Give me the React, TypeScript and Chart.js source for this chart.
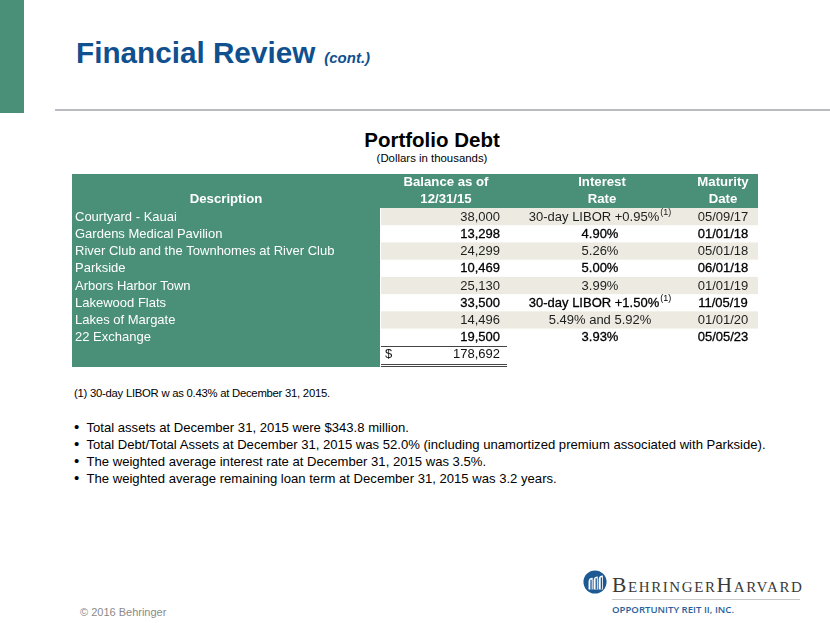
import React, { useEffect, useRef } from "react";
import { Chart, registerables } from "chart.js";

Chart.register(...registerables);

// ---- data ----
const descriptions = [
  "Courtyard - Kauai",
  "Gardens Medical Pavilion",
  "River Club and the Townhomes at River Club",
  "Parkside",
  "Arbors Harbor Town",
  "Lakewood Flats",
  "Lakes of Margate",
  "22 Exchange",
];
const balances = [38000, 13298, 24299, 10469, 25130, 33500, 14496, 19500];
const rates = [
  "30-day LIBOR +0.95%",
  "4.90%",
  "5.26%",
  "5.00%",
  "3.99%",
  "30-day LIBOR +1.50%",
  "5.49% and 5.92%",
  "3.93%",
];
const rateNotes = ["(1)", "", "", "", "", "(1)", "", ""];
const maturities = ["05/09/17", "01/01/18", "05/01/18", "06/01/18", "01/01/19", "11/05/19", "01/01/20", "05/05/23"];
const headerTop = ["", "Balance as of", "Interest", "Maturity"];
const headerBottom = ["Description", "12/31/15", "Rate", "Date"];
const totalBalance = balances.reduce((a, b) => a + b, 0);

const footnote = "(1) 30-day LIBOR w as 0.43% at December 31, 2015.";
const bullets = [
  "Total assets at December 31, 2015 were $343.8 million.",
  "Total Debt/Total Assets at December 31, 2015 was 52.0% (including unamortized premium associated with Parkside).",
  "The weighted average interest rate at December 31, 2015 was 3.5%.",
  "The weighted average remaining loan term at December 31, 2015 was 3.2 years.",
];

const GREEN = "#4a8f78";
const BEIGE = "#eceae1";
const FONT = "'Liberation Sans', Arial, sans-serif";

const fmt = (v: number) => v.toLocaleString("en-US");

const tablePlugin = {
  id: "tablePlugin",
  beforeDatasetsDraw(chart: any) {
    const { ctx, chartArea, scales } = chart;
    const yScale = scales.y;
    const n = chart.data.labels.length;
    const rowH = (chartArea.bottom - chartArea.top) / n;
    const W = chart.width;
    const DESC_R = 308;
    const BAL_R = 435;
    const BAL_TEXT_R = 428;
    const RATE_C = 528;
    const MAT_C = 651;
    const headerCenters = [154, 374, 530, 651];
    const values = chart.data.datasets[0].data as number[];

    ctx.save();
    ctx.fillStyle = GREEN;
    ctx.fillRect(0, 0, W, chartArea.top);
    ctx.fillRect(0, chartArea.top, DESC_R, chartArea.bottom + 4 - chartArea.top);

    ctx.fillStyle = "#ffffff";
    ctx.font = `bold 13.2px ${FONT}`;
    ctx.textAlign = "center";
    ctx.textBaseline = "middle";
    headerTop.forEach((t, i) => t && ctx.fillText(t, headerCenters[i], 8.5));
    headerBottom.forEach((t, i) => t && ctx.fillText(t, headerCenters[i], 25.5));

    for (let i = 0; i < n; i++) {
      const yc = yScale.getPixelForValue(i);
      const top = yc - rowH / 2;
      const isTotal = i === n - 1;
      if (!isTotal && i % 2 === 0) {
        ctx.fillStyle = BEIGE;
        ctx.fillRect(DESC_R + 1, top, W - DESC_R - 1, rowH);
      }
      ctx.font = `13px ${FONT}`;
      ctx.textBaseline = "middle";
      if (!isTotal) {
        ctx.fillStyle = "#ffffff";
        ctx.textAlign = "left";
        ctx.fillText(chart.data.labels[i], 3, yc + 0.5);

        const dark = i % 2 === 1;
        ctx.fillStyle = dark ? "#000" : "#1e1e1e";
        ctx.strokeStyle = ctx.fillStyle;
        ctx.lineWidth = 0.3;
        const draw = (t: string, x: number) => {
          ctx.fillText(t, x, yc + 0.5);
          if (dark) ctx.strokeText(t, x, yc + 0.5);
        };
        ctx.textAlign = "right";
        draw(fmt(values[i]), BAL_TEXT_R);
        const main = rates[i];
        const note = rateNotes[i];
        ctx.textAlign = "left";
        const mw = ctx.measureText(main).width;
        ctx.font = `9px ${FONT}`;
        const nw = note ? ctx.measureText(note).width + 1 : 0;
        const start = RATE_C - (mw + nw) / 2;
        ctx.font = `13px ${FONT}`;
        draw(main, start);
        if (note) {
          ctx.font = `9px ${FONT}`;
          ctx.fillText(note, start + mw + 1, yc - 4);
        }
        ctx.font = `13px ${FONT}`;
        ctx.textAlign = "center";
        draw(maturities[i], MAT_C);
      } else {
        ctx.fillStyle = "#111";
        ctx.textAlign = "left";
        ctx.fillText("$", DESC_R + 5, yc + 0.5);
        ctx.textAlign = "right";
        ctx.fillText(fmt(values[i]), BAL_TEXT_R, yc + 0.5);
        ctx.strokeStyle = "#444";
        ctx.lineWidth = 1.2;
        ctx.beginPath();
        ctx.moveTo(DESC_R + 1, Math.round(top) + 0.5);
        ctx.lineTo(BAL_R, Math.round(top) + 0.5);
        const b = Math.round(chartArea.bottom);
        ctx.moveTo(DESC_R + 1, b + 1.5);
        ctx.lineTo(BAL_R, b + 1.5);
        ctx.moveTo(DESC_R + 1, b + 3.5);
        ctx.lineTo(BAL_R, b + 3.5);
        ctx.stroke();
      }
    }
    ctx.restore();
  },
};

function DebtTable() {
  const ref = useRef<HTMLCanvasElement | null>(null);
  useEffect(() => {
    if (!ref.current) return;
    const chart = new Chart(ref.current, {
      type: "bar",
      data: {
        labels: [...descriptions, "Total"],
        datasets: [
          {
            label: "Balance as of 12/31/15",
            data: [...balances, totalBalance],
            backgroundColor: "rgba(0,0,0,0)",
            borderWidth: 0,
          },
        ],
      },
      options: {
        indexAxis: "y",
        animation: false,
        responsive: false,
        maintainAspectRatio: false,
        layout: { padding: { top: 34, bottom: 8, left: 0, right: 0 } },
        scales: {
          x: { display: false, min: 0 },
          y: { display: false },
        },
        plugins: { legend: { display: false }, tooltip: { enabled: false } },
      },
      plugins: [tablePlugin],
    });
    return () => chart.destroy();
  }, []);
  return (
    <canvas
      ref={ref}
      width={686}
      height={197}
      style={{ position: "absolute", left: 72, top: 174, width: 686, height: 197 }}
    />
  );
}

function Logo() {
  return (
    <div style={{ position: "absolute", left: 580, top: 570, width: 240, height: 50 }}>
      <svg width={24} height={24} style={{ position: "absolute", left: 3, top: 0 }} viewBox="0 0 26 26">
        <circle cx={13} cy={13} r={12.5} fill="#1d5a94" />
        <path d="M6 21 V13 Q6 8.5 10.5 8.5 V21 Z" fill="#fff" />
        <path d="M11.5 21 V11.5 Q11.5 7 16 7 V21 Z" fill="#fff" />
        <path d="M17 21 V10.5 Q17 6 21.5 6 V21 Z" fill="#fff" />
        <rect x={8} y={10.5} width={1.4} height={11} fill="#1d5a94" />
        <rect x={13.6} y={9} width={1.4} height={12} fill="#1d5a94" />
        <rect x={19.2} y={8} width={1.4} height={13} fill="#1d5a94" />
      </svg>
      <div
        style={{
          position: "absolute",
          left: 32,
          top: 3.7,
          fontFamily: "'Liberation Serif', 'DejaVu Serif', serif",
          fontSize: 21.5,
          lineHeight: "22px",
          fontVariant: "small-caps",
          color: "#3a3a3a",
          letterSpacing: 1.6,
          whiteSpace: "nowrap",
        }}
      >
        BehringerHarvard
      </div>
      <div style={{ position: "absolute", left: 32, top: 28.5, width: 188, height: 1, background: "#c8c8c8" }} />
      <div
        style={{
          position: "absolute",
          left: 32,
          top: 33,
          fontFamily: "'Open Sans', 'Liberation Sans', sans-serif",
          fontSize: 9.6,
          fontWeight: 600,
          color: "#2a5f99",
          whiteSpace: "nowrap",
        }}
      >
        OPPORTUNITY REIT II, INC.
      </div>
    </div>
  );
}

export default function App() {
  return (
    <div
      style={{
        position: "fixed",
        left: 0,
        top: 0,
        width: 830,
        height: 623,
        background: "#fff",
        overflow: "hidden",
        fontFamily: FONT,
        color: "#000",
      }}
    >
      <div style={{ position: "absolute", left: 0, top: 0, width: 24, height: 113, background: GREEN }} />
      <div
        style={{
          position: "absolute",
          left: 76,
          top: 34,
          lineHeight: "38px",
          whiteSpace: "nowrap",
          color: "#10508e",
          fontWeight: "bold",
        }}
      >
        <span style={{ fontSize: 29.7 }}>Financial Review</span>
        <span style={{ fontSize: 15, fontStyle: "italic", marginLeft: 9 }}>(cont.)</span>
      </div>
      <div style={{ position: "absolute", left: 55, top: 109, width: 775, height: 2, background: "#b9bdc1" }} />
      <div
        style={{
          position: "absolute",
          left: 232,
          width: 400,
          top: 128,
          textAlign: "center",
          fontWeight: "bold",
          fontSize: 20.5,
          lineHeight: "24px",
        }}
      >
        Portfolio Debt
      </div>
      <div
        style={{
          position: "absolute",
          left: 232,
          width: 400,
          top: 151,
          textAlign: "center",
          fontSize: 11.4,
          lineHeight: "14px",
        }}
      >
        (Dollars in thousands)
      </div>
      <DebtTable />
      <div
        style={{
          position: "absolute",
          left: 74,
          top: 386,
          fontSize: 11.3,
          lineHeight: "14px",
          letterSpacing: -0.25,
          whiteSpace: "nowrap",
        }}
      >
        {footnote}
      </div>
      <div style={{ position: "absolute", left: 74, top: 418.5, fontSize: 13.1, lineHeight: "17.2px" }}>
        {bullets.map((b, i) => (
          <div key={i} style={{ whiteSpace: "nowrap", height: 17.2 }}>
            <span style={{ display: "inline-block", width: 12.5, fontSize: 15, lineHeight: "10px" }}>•</span>
            {b}
          </div>
        ))}
      </div>
      <div style={{ position: "absolute", left: 80, top: 605, fontSize: 11, color: "#8a8a8a", lineHeight: "14px" }}>
        © 2016 Behringer
      </div>
      <Logo />
    </div>
  );
}
